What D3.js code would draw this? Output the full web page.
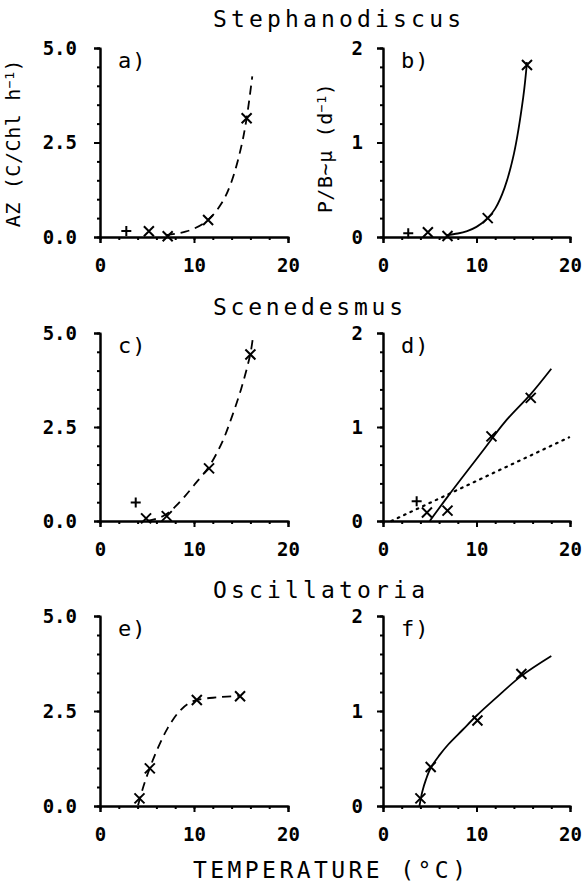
<!DOCTYPE html>
<html>
<head>
<meta charset="utf-8">
<script src="https://cdn.jsdelivr.net/npm/d3@7"></script>
<style>
  body { margin: 0; background: #fff; }
  svg { display: block; }
  text { font-family: "DejaVu Sans Mono", monospace; fill: #000; }
  .axis path, .axis line { stroke: #000; stroke-width: 2; }
  .axis text { font-size: 19px; font-weight: bold; }
</style>
</head>
<body>
<div id="chart"></div>
<script>
// species titles, one per row
const species = ['Stephanodiscus', 'Scenedesmus', 'Oscillatoria'];
const panelLetters = ['a)', 'b)', 'c)', 'd)', 'e)', 'f)'];

const xTicks = [0, 10, 20];
const azTicks = [0, 2.5, 5];
const pbTicks = [0, 1, 2];

// a) Stephanodiscus AZ
const aCross = [[5.2, 0.15], [7.2, 0.02], [11.5, 0.45], [15.6, 3.14]];
const aPlus = [[2.8, 0.16]];
const aCurve = [[7, 0.05], [8, 0.085], [9, 0.137], [10, 0.22], [11.5, 0.45], [13, 0.92], [14, 1.47], [15, 2.36], [15.6, 3.14], [16.2, 4.25]];

// b) Stephanodiscus P/B
const bCross = [[4.8, 0.05], [6.9, 0.01], [11.2, 0.2], [15.4, 1.82]];
const bPlus = [[2.7, 0.04]];
const bCurve = [[6.8, 0.02], [8, 0.037], [9, 0.063], [10, 0.107], [11.2, 0.2], [12, 0.3], [13, 0.52], [14, 0.88], [15, 1.48], [15.4, 1.85]];

// c) Scenedesmus AZ
const cCross = [[4.9, 0.07], [7.1, 0.13], [11.6, 1.4], [16.0, 4.43]];
const cPlus = [[3.8, 0.49]];
const cCurve = [[5, 0], [6, 0.06], [7, 0.17], [8, 0.38], [9, 0.65], [10, 0.95], [11.6, 1.45], [13, 2.1], [14, 2.75], [15, 3.5], [16, 4.45], [16.3, 4.95]];

// d) Scenedesmus P/B
const dCross = [[4.7, 0.09], [6.9, 0.11], [11.6, 0.9], [15.8, 1.31]];
const dPlus = [[3.6, 0.21]];
const dCurve = [[5, 0], [7, 0.27], [10.7, 0.75], [13, 1.05], [15.8, 1.35], [18, 1.62]];
const dDotted = [[0.9, 0], [19.9, 0.89]];

// e) Oscillatoria AZ
const eCross = [[4.2, 0.2], [5.3, 0.99], [10.3, 2.79], [14.9, 2.89]];
const eCurve = [[4.05, 0.02], [4.6, 0.5], [5.3, 1.0], [6.2, 1.55], [7.2, 2.05], [8.3, 2.45], [9.3, 2.68], [10.3, 2.79], [12.5, 2.86], [14.9, 2.9]];

// f) Oscillatoria P/B
const fCross = [[4.0, 0.08], [5.1, 0.41], [10.1, 0.9], [14.8, 1.39]];
const fCurve = [[3.9, 0], [4.2, 0.15], [4.6, 0.28], [5.1, 0.4], [6, 0.53], [7, 0.65], [8.5, 0.8], [10, 0.95], [12, 1.13], [14.8, 1.37], [18, 1.58]];

const panels = [
  { cross: aCross, plus: aPlus, lines: [{ data: aCurve, style: 'dash' }] },
  { cross: bCross, plus: bPlus, lines: [{ data: bCurve, style: 'solid' }] },
  { cross: cCross, plus: cPlus, lines: [{ data: cCurve, style: 'dash' }] },
  { cross: dCross, plus: dPlus, lines: [{ data: dCurve, style: 'solid' }, { data: dDotted, style: 'dot' }] },
  { cross: eCross, plus: [], lines: [{ data: eCurve, style: 'dash' }] },
  { cross: fCross, plus: [], lines: [{ data: fCurve, style: 'solid' }] }
];

const width = 583, height = 886;
const svg = d3.select('#chart').append('svg').attr('width', width).attr('height', height);

const colX = [[100, 288], [383, 570]];
const rowY = [[237, 48], [521, 333], [806, 616]];

const crossPath = 'M-5,-5L5,5M-5,5L5,-5';
const plusPath = 'M-5,0H5M0,-5V5';
const dashes = { dash: '9,6', solid: null, dot: '1.6,5.4' };

panels.forEach((p, i) => {
  const row = Math.floor(i / 2), col = i % 2;
  const x = d3.scaleLinear().domain([0, 20]).range(colX[col]);
  const y = d3.scaleLinear().domain(col === 0 ? [0, 5] : [0, 2]).range(rowY[row]);
  const g = svg.append('g');

  // minor ticks
  g.append('g').attr('class', 'axis').attr('transform', `translate(0,${rowY[row][0]})`)
    .call(d3.axisBottom(x).tickValues(d3.range(0, 21, 2)).tickSize(3).tickSizeOuter(0).tickFormat(''));
  g.append('g').attr('class', 'axis').attr('transform', `translate(${colX[col][0]},0)`)
    .call(d3.axisLeft(y).tickValues(d3.range(0, col === 0 ? 5.01 : 2.01, col === 0 ? 0.5 : 0.2)).tickSize(3).tickSizeOuter(0).tickFormat(''));

  // major ticks + labels
  g.append('g').attr('class', 'axis').attr('transform', `translate(0,${rowY[row][0]})`)
    .call(d3.axisBottom(x).tickValues(xTicks).tickSize(6).tickSizeOuter(6).tickPadding(16).tickFormat(d3.format('d')));
  g.append('g').attr('class', 'axis').attr('transform', `translate(${colX[col][0]},0)`)
    .call(d3.axisLeft(y).tickValues(col === 0 ? azTicks : pbTicks).tickSize(6).tickSizeOuter(6)
      .tickPadding(col === 0 ? 17 : 14).tickFormat(col === 0 ? d3.format('.1f') : d3.format('d')));

  const line = d3.line().x(d => x(d[0])).y(d => y(d[1])).curve(d3.curveCatmullRom.alpha(0.5));
  p.lines.forEach(l => {
    g.append('path').attr('d', line(l.data)).attr('fill', 'none').attr('stroke', '#000')
      .attr('stroke-width', l.style === 'dot' ? 2.2 : 1.8)
      .attr('stroke-dasharray', dashes[l.style])
      .attr('stroke-linecap', l.style === 'dot' ? 'round' : 'butt');
  });

  g.selectAll('.cross').data(p.cross).join('path').attr('class', 'cross')
    .attr('d', crossPath).attr('transform', d => `translate(${x(d[0])},${y(d[1])})`)
    .attr('stroke', '#000').attr('stroke-width', 2).attr('fill', 'none');
  g.selectAll('.plus').data(p.plus).join('path').attr('class', 'plus')
    .attr('d', plusPath).attr('transform', d => `translate(${x(d[0])},${y(d[1])})`)
    .attr('stroke', '#000').attr('stroke-width', 2).attr('fill', 'none');

  g.append('text').attr('x', colX[col][0] + 18).attr('y', rowY[row][1] + 20)
    .attr('font-size', 22).attr('letter-spacing', 1).text(panelLetters[i]);
});

// row titles
const titleLen = [248, 190, 212];
species.forEach((s, r) => {
  svg.append('text').attr('x', 213).attr('y', [27, 315, 598][r])
    .attr('font-size', 23).attr('textLength', titleLen[r]).attr('lengthAdjust', 'spacing').text(s);
});

// y-axis labels
const yl1 = svg.append('text').attr('transform', 'translate(20,143) rotate(-90)')
  .attr('text-anchor', 'middle').attr('font-size', 20).attr('letter-spacing', 0.6);
yl1.append('tspan').text('AZ (C/Chl h');
yl1.append('tspan').attr('dy', -6).attr('font-size', 13).text('\u22121');
yl1.append('tspan').attr('dy', 6).text(')');

const yl2 = svg.append('text').attr('transform', 'translate(332,148) rotate(-90)')
  .attr('text-anchor', 'middle').attr('font-size', 20).attr('letter-spacing', 0.6);
yl2.append('tspan').text('P/B~\u03bc  (d');
yl2.append('tspan').attr('dy', -6).attr('font-size', 13).text('\u22121');
yl2.append('tspan').attr('dy', 6).text(')');

// x-axis label
svg.append('text').attr('x', 193).attr('y', 878).attr('font-size', 23)
  .attr('textLength', 273).attr('lengthAdjust', 'spacing').text('TEMPERATURE (\u00b0C)');
</script>
</body>
</html>
